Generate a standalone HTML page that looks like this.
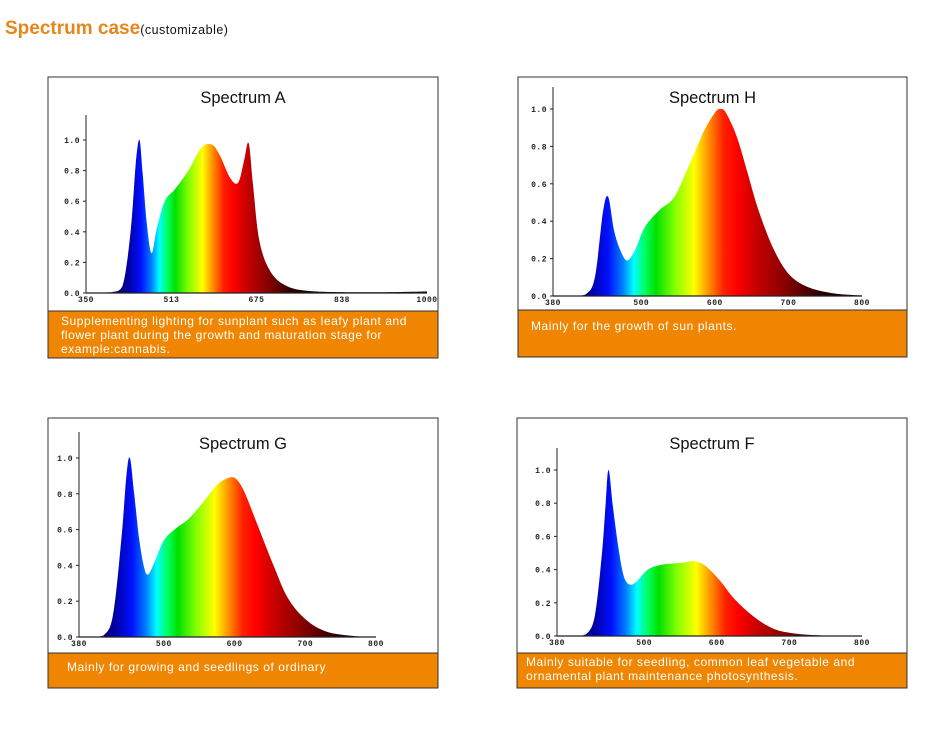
<!DOCTYPE html>
<html><head><meta charset="utf-8"><style>
html,body{margin:0;padding:0;background:#fff;width:928px;height:738px;overflow:hidden}
svg text{font-family:"Liberation Sans",sans-serif}
.t{font-size:16.5px;fill:#111}
.tk{font-family:"Liberation Mono",monospace;font-size:8px;fill:#222;font-weight:bold;letter-spacing:0.5px}
.d{font-size:12px;fill:#fff;letter-spacing:0.55px}
</style></head><body>
<svg id="s" width="928" height="738" viewBox="0 0 928 738" xmlns="http://www.w3.org/2000/svg">
<defs></defs>
<text x="5" y="34" style="font-size:19px;font-weight:bold;fill:#e8851a">Spectrum case<tspan style="font-size:12.5px;font-weight:normal;fill:#111;letter-spacing:0.5px">(customizable)</tspan></text>
<g id="g"></g>
</svg>
<script>
var svg=document.getElementById('s'),G=document.getElementById('g'),defs=svg.querySelector('defs');
var NS='http://www.w3.org/2000/svg';
function el(t,a,p,txt){
  if(typeof p==='string'){txt=p;p=null;}
  var e=document.createElementNS(NS,t);for(var k in a)e.setAttribute(k,a[k]);
  if(txt!==undefined&&txt!==null)e.textContent=txt;(p||G).appendChild(e);return e;}
var cols=[[380,'#000030'],[410,'#10006a'],[430,'#0000a0'],[455,'#0010ff'],[475,'#0080ff'],[490,'#00ffff'],[505,'#00ff60'],[520,'#00e000'],[545,'#80ff00'],[572,'#ffff00'],[590,'#ff9900'],[612,'#ff2000'],[630,'#ff0000'],[660,'#c00000'],[700,'#800000'],[740,'#300000'],[800,'#000000'],[1000,'#000000']];
var pid=0;
function panel(o){
  el('rect',{x:o.bx,y:o.by,width:o.bw,height:o.bh,fill:'#fff',stroke:'#333','stroke-width':1});
  el('rect',{x:o.bx+0.5,y:o.oy,width:o.bw-1,height:o.by+o.bh-o.oy-0.5,fill:'#ef8500'});
  el('line',{x1:o.bx,x2:o.bx+o.bw,y1:o.oy,y2:o.oy,stroke:'#333'});
  el('text',{x:o.bx+o.bw/2,y:o.ty,'text-anchor':'middle','class':'t'},null,o.title);
  var X=function(nm){return o.x0+(nm-o.n0)*(o.x1-o.x0)/(o.n1-o.n0);};
  var Y=function(v){return o.yb-v*(o.yb-o.y1);};
  var id='gr'+(pid++);
  var lg=el('linearGradient',{id:id,gradientUnits:'userSpaceOnUse',x1:X(o.n0),x2:X(o.n1),y1:0,y2:0},defs);
  cols.forEach(function(c){var off=(c[0]-o.n0)/(o.n1-o.n0);if(off>=0&&off<=1)el('stop',{offset:off,'stop-color':c[1]},lg);});
  var p=o.pts.map(function(q){return [X(q[0]),Y(q[1])];});
  var d='M'+X(o.n0)+','+o.yb+' L'+p[0][0]+','+p[0][1];
  for(var i=0;i<p.length-1;i++){
    var a=p[i-1]||p[i],b=p[i],c=p[i+1],e=p[i+2]||c;
    var c1=[b[0]+(c[0]-a[0])/6,b[1]+(c[1]-a[1])/6],c2=[c[0]-(e[0]-b[0])/6,c[1]-(e[1]-b[1])/6];
    c1[1]=Math.min(c1[1],o.yb);c2[1]=Math.min(c2[1],o.yb);
    d+=' C'+c1[0].toFixed(1)+','+c1[1].toFixed(1)+' '+c2[0].toFixed(1)+','+c2[1].toFixed(1)+' '+c[0].toFixed(1)+','+c[1].toFixed(1);
  }
  d+=' L'+X(o.n1)+','+o.yb+'Z';
  el('path',{d:d,fill:'url(#'+id+')'});
  el('line',{x1:o.x0,x2:o.x0,y1:o.yt,y2:o.yb,stroke:'#222','stroke-width':1});
  el('line',{x1:o.x0,x2:X(o.n1),y1:o.yb,y2:o.yb,stroke:'#222','stroke-width':1.2});
  [0,0.2,0.4,0.6,0.8,1.0].forEach(function(v){
    el('line',{x1:o.x0-3,x2:o.x0,y1:Y(v),y2:Y(v),stroke:'#222'});
    el('text',{x:o.x0-6,y:Y(v)+3,'text-anchor':'end','class':'tk'},null,v.toFixed(1));
  });
  o.xt.forEach(function(t){el('text',{x:X(t),y:o.yb+9,'text-anchor':'middle','class':'tk'},null,String(t));});
  o.desc.forEach(function(s,i){el('text',{x:o.dx,y:o.dy+i*14,'class':'d'},null,s);});
}
panel({bx:48,by:77,bw:390,bh:281,oy:311,ty:103,title:'Spectrum A',x0:86,x1:427,n0:350,n1:1000,yb:293,y1:140,yt:115,
 xt:[350,513,675,838,1000],
 pts:[[400,0.005],[420,0.05],[435,0.4],[445,0.85],[452,1.0],[458,0.78],[466,0.45],[475,0.26],[485,0.42],[500,0.6],[520,0.68],[545,0.8],[570,0.95],[590,0.97],[605,0.9],[625,0.75],[640,0.72],[651,0.86],[660,0.98],[668,0.72],[680,0.35],[700,0.15],[730,0.05],[780,0.012],[900,0.005],[1000,0.01]],
 desc:['Supplementing lighting for sunplant such as leafy plant and','flower plant during the growth and maturation stage for','example:cannabis.'],dx:61,dy:325});
panel({bx:518,by:77,bw:389,bh:280,oy:310,ty:103,title:'Spectrum H',x0:553,x1:862,n0:380,n1:800,yb:296,y1:109,yt:87,
 xt:[380,500,600,700,800],
 pts:[[410,0],[425,0.01],[437,0.1],[448,0.45],[455,0.53],[463,0.35],[472,0.24],[481,0.19],[492,0.25],[505,0.37],[525,0.46],[545,0.53],[565,0.7],[585,0.88],[600,0.98],[607,1.0],[615,0.98],[630,0.85],[645,0.65],[660,0.45],[680,0.25],[700,0.12],[725,0.05],[760,0.015],[800,0.003]],
 desc:['Mainly for the growth of sun plants.'],dx:531,dy:330});
panel({bx:48,by:418,bw:390,bh:270,oy:653,ty:449,title:'Spectrum G',x0:79,x1:376,n0:380,n1:800,yb:637,y1:458,yt:432,
 xt:[380,500,600,700,800],
 pts:[[400,0],[415,0.01],[428,0.12],[440,0.55],[447,0.9],[452,1.0],[458,0.8],[465,0.55],[472,0.39],[478,0.35],[488,0.43],[500,0.54],[515,0.6],[535,0.66],[555,0.75],[575,0.85],[592,0.89],[603,0.88],[615,0.8],[635,0.6],[655,0.4],[675,0.22],[700,0.1],[730,0.03],[770,0.005],[800,0]],
 desc:['Mainly for growing and seedlings of ordinary'],dx:67,dy:671});
panel({bx:517,by:418,bw:390,bh:270,oy:653,ty:449,title:'Spectrum F',x0:557,x1:862,n0:380,n1:800,yb:636,y1:470,yt:448,
 xt:[380,500,600,700,800],
 pts:[[405,0],[420,0.01],[432,0.12],[442,0.5],[447,0.8],[451,1.0],[457,0.78],[465,0.52],[472,0.36],[480,0.31],[490,0.33],[505,0.4],[525,0.43],[550,0.44],[570,0.45],[585,0.42],[605,0.33],[625,0.22],[650,0.12],[675,0.05],[700,0.02],[740,0.004],[800,0]],
 desc:['Mainly suitable for seedling, common leaf vegetable and','ornamental plant maintenance photosynthesis.'],dx:526,dy:666});
</script>
</body></html>
